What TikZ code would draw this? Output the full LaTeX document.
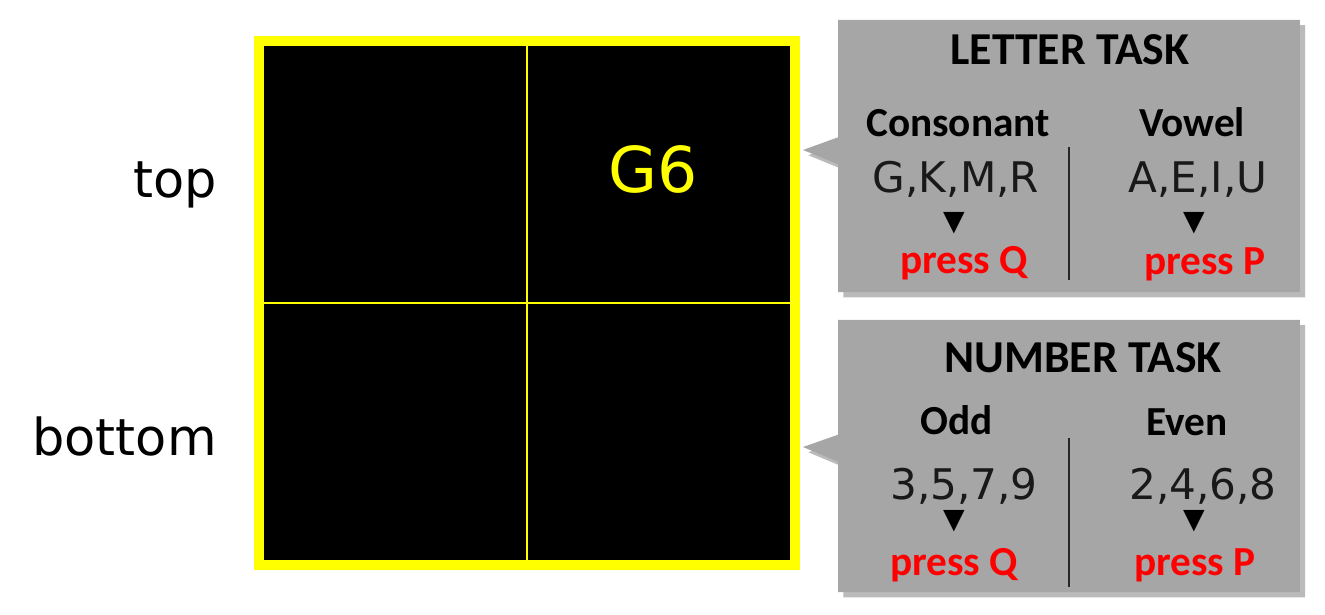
\documentclass[tikz,border=0pt]{standalone}
\usepackage{fontspec}
\setmainfont{Carlito}
\newfontfamily\dejavu{DejaVu Sans}
\usetikzlibrary{shapes,shadows,positioning}
\definecolor{BoxGray}{HTML}{A6A6A6}
\definecolor{ShadowGray}{HTML}{8C8C8C}
\definecolor{KeyRed}{HTML}{FF0000}
\definecolor{ScreenYellow}{HTML}{FFFF00}
\definecolor{DividerColor}{HTML}{262626}
\tikzset{
    screen/.style={rectangle, draw=ScreenYellow, fill=black, line width=0.2cm, minimum width=10.72cm, minimum height=10.48cm, outer sep=0pt,
        drop shadow={shadow xshift=3pt, shadow yshift=-3pt, fill=ShadowGray, opacity=0.6}},
    gridline/.style={draw=ScreenYellow, line width=1.5pt},
    taskbox/.style={rectangle callout, fill=BoxGray, minimum width=9.24cm, minimum height=5.45cm, callout pointer width=0.54cm,
        drop shadow={shadow xshift=3pt, shadow yshift=-3pt, fill=ShadowGray, opacity=0.6}},
    poslabel/.style={inner sep=0pt, anchor=base east, font=\dejavu\fontsize{29}{34}\selectfont},
    stimulus/.style={inner sep=0pt, anchor=base, text=ScreenYellow, font=\dejavu\fontsize{36}{42}\selectfont},
    title/.style={inner sep=0pt, anchor=base, font=\fontsize{26}{30}\selectfont\bfseries},
    category/.style={inner sep=0pt, anchor=base, font=\fontsize{23.5}{28}\selectfont\bfseries},
    members/.style={inner sep=0pt, anchor=base, text=black!90, font=\dejavu\fontsize{24}{28}\selectfont},
    pointer/.style={inner sep=0pt, font=\dejavu\fontsize{16}{18}\selectfont},
    keypress/.style={category, text=KeyRed},
    divider/.style={draw=DividerColor, line width=1.5pt}
}

\begin{document}
\begin{tikzpicture}[x=0.02cm, y=-0.02cm]
\useasboundingbox (0,0) rectangle (1325,615);

% Screen with four quadrants
\node (screen) [screen] at (527,303) {};
\draw [gridline] (screen.north) -- (screen.south);
\draw [gridline] (screen.west) -- (screen.east);
\node (g6) [stimulus] at (653,193) {G6};

% Position labels
\node (top) [poslabel] at (217,197) {top};
\node (bottom) [poslabel] at (217,455) {bottom};

% Letter task box
\node (letterbox) [taskbox, callout absolute pointer={(803,150)}] at (1069,156) {};
\node (lettertitle) [title] at (1070,65) {LETTER TASK};
\node (consonant) [category] at (958,136) {Consonant};
\node (vowel) [category] at (1192,136) {Vowel};
\node (conslist) [members] at (956,193) {G,K,M,R};
\node (vowlist) [members] at (1198,193) {A,E,I,U};
\node (constri) [pointer] at (954,223) {▼};
\node (vowtri) [pointer] at (1194,223) {▼};
\node (consq) [keypress] at (964,273) {press Q};
\node (vowp) [keypress] at (1205,274) {press P};
\coordinate (lettersplittop) at (1069,147);
\coordinate (lettersplitbot) at (1069,280);
\draw [divider] (lettersplittop) -- (lettersplitbot);

% Number task box
\node (numberbox) [taskbox, callout absolute pointer={(803,447)}] at (1069,456) {};
\node (numbertitle) [title] at (1083,372) {NUMBER TASK};
\node (odd) [category] at (957,434) {Odd};
\node (even) [category] at (1187,435) {Even};
\node (oddlist) [members] at (964,499) {3,5,7,9};
\node (evenlist) [members] at (1203,499) {2,4,6,8};
\node (oddtri) [pointer] at (954,521) {▼};
\node (eventri) [pointer] at (1194,521) {▼};
\node (oddq) [keypress] at (954,575) {press Q};
\node (evenp) [keypress] at (1195,575) {press P};
\coordinate (numbersplittop) at (1069,438);
\coordinate (numbersplitbot) at (1069,587);
\draw [divider] (numbersplittop) -- (numbersplitbot);

\end{tikzpicture}
\end{document}
